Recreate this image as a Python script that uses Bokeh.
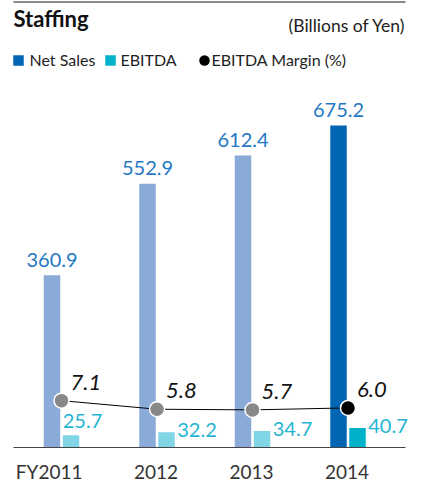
from bokeh.plotting import figure
from bokeh.models import Range1d
from bokeh.core.properties import value
from bokeh.embed import file_html
from bokeh.resources import INLINE
import numpy as np

# ---- data ----
categories = ["FY2011", "2012", "2013", "2014"]
net_sales = [360.9, 552.9, 612.4, 675.2]
ebitda = [25.7, 32.2, 34.7, 40.7]
ebitda_margin = [7.1, 5.8, 5.7, 6.0]
net_labels = ["360.9", "552.9", "612.4", "675.2"]
ebitda_labels = ["25.7", "32.2", "34.7", "40.7"]
margin_labels = ["7.1", "5.8", "5.7", "6.0"]

# ---- styles ----
net_colors = ["#8aaad8", "#8aaad8", "#8aaad8", "#0066b3"]
eb_colors = ["#80d6e6", "#80d6e6", "#80d6e6", "#00b2c9"]
pt_colors = ["#888888", "#888888", "#888888", "#000000"]
eb_label_above = [True, False, False, False]
FONT = value("Lato")
TB = "alphabetic"
SHIFT = 0.42   # em: the svg backend draws alphabetic text this much lower

W, H = 410, 483
PX_X = 95.5          # pixels per category step
PX_Y = 0.477         # pixels per billion yen
PX_M = 6.6           # pixels per margin percent
X0 = 61.0            # px of first category (margin point)
BASE = 447.0         # px (from top) of baseline
L, R = 13, 405       # rule extents

x_start = -X0 / PX_X
x_end = (W - X0) / PX_X
y_start = -(H - BASE) / PX_Y
y_end = BASE / PX_Y

def X(px):
    return x_start + px / PX_X

def Y(px):
    return y_end - px / PX_Y

p = figure(width=W, height=H, x_range=Range1d(x_start, x_end), y_range=Range1d(y_start, y_end),
           output_backend="svg", toolbar_location=None, min_border=0,
           x_axis_location=None, y_axis_location=None)
p.extra_y_ranges = {"margin": Range1d(-(H - BASE) / PX_M, BASE / PX_M)}
p.grid.visible = False
p.outline_line_color = None
p.background_fill_color = "white"

idx = np.arange(len(categories))
bw = 16.5 / PX_X
x_net = idx - 9.5 / PX_X
x_eb = idx + 9.5 / PX_X

# bars
p.vbar(x=x_net, top=net_sales, bottom=0, width=bw, fill_color=net_colors, line_color=None)
p.vbar(x=x_eb, top=ebitda, bottom=0, width=bw, fill_color=eb_colors, line_color=None)

# baseline and top rule
p.segment(x0=[X(L)], y0=[0], x1=[X(R)], y1=[0], line_color="#444444", line_width=1)
p.segment(x0=[X(L)], y0=[Y(1.5)], x1=[X(R)], y1=[Y(1.5)], line_color="#8a8a8a", line_width=2)

# margin line and points
p.line(x=idx, y=ebitda_margin, y_range_name="margin", line_color="black", line_width=1)
p.scatter(x=idx, y=ebitda_margin, y_range_name="margin", size=15, fill_color=pt_colors,
          line_color="white", line_width=1.5)

# net sales labels (baseline 7px above bar)
fs = 20
p.text(x=x_net, y=np.array(net_sales) + (7 + SHIFT * fs) / PX_Y, text=net_labels, text_font=FONT,
       text_font_size=f"{fs}px", text_color="#1f78c4", text_align="center", text_baseline=TB)

# ebitda labels
eb_x = [x_eb[i] - bw / 2 if eb_label_above[i] else x_eb[i] + bw / 2 + 2.5 / PX_X for i in idx]
eb_y = [ebitda[i] + (6 + SHIFT * fs) / PX_Y if eb_label_above[i]
        else ebitda[i] - (6 - SHIFT * fs) / PX_Y for i in idx]
p.text(x=eb_x, y=eb_y, text=ebitda_labels, text_font=FONT, text_font_size=f"{fs}px",
       text_color="#1fb5d2", text_align="left", text_baseline=TB)

# margin labels
fm = 22
p.text(x=idx + 9 / PX_X, y=np.array(ebitda_margin) + (9 + SHIFT * fm) / PX_M, y_range_name="margin",
       text=margin_labels, text_font=FONT, text_font_size=f"{fm}px", text_font_style="italic",
       text_color="#111111", text_align="left", text_baseline=TB)

# category labels
fc = 19
p.text(x=idx + 21 / PX_X, y=[Y(479 - SHIFT * fc)] * len(categories), text=categories, text_font=FONT,
       text_font_size=f"{fc}px", text_color="#333333", text_align="right", text_baseline=TB)

# title & unit
p.text(x=[X(L)], y=[Y(27.5 - SHIFT * 22)], text=["Staffing"], text_font=FONT, text_font_size="22px",
       text_font_style="bold", text_color="#111111", text_align="left", text_baseline=TB)
p.text(x=[X(R)], y=[Y(32.5 - SHIFT * 17.5)], text=["(Billions of Yen)"], text_font=FONT,
       text_font_size="17.5px", text_color="#222222", text_align="right", text_baseline=TB)

# legend
p.scatter(x=[X(L + 5), X(L + 97)], y=[Y(60), Y(60)], marker="square", size=10.5,
          fill_color=["#0066b3", "#00b2c9"], line_color=None)
p.scatter(x=[X(L + 191)], y=[Y(60)], marker="circle", size=10.5, fill_color="black", line_color=None)
p.text(x=[X(L + 16), X(L + 107), X(L + 198)], y=[Y(65.5 - SHIFT * 16)] * 3,
       text=["Net Sales", "EBITDA", "EBITDA Margin (%)"], text_font=FONT, text_font_size="16px",
       text_color="#222222", text_align="left", text_baseline=TB)

open("out.html", "w").write(file_html(p, INLINE))
